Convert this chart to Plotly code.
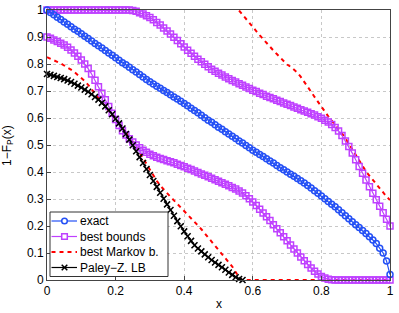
import plotly.graph_objects as go

x_vals = [round(i * 0.01, 2) for i in range(101)]

exact = [1.000, 0.991, 0.982, 0.973, 0.965, 0.956, 0.947, 0.938, 0.929, 0.921,
         0.912, 0.903, 0.894, 0.885, 0.876, 0.868, 0.859, 0.850, 0.841, 0.832,
         0.823, 0.814, 0.805, 0.797, 0.788, 0.779, 0.770, 0.761, 0.752, 0.743,
         0.734, 0.726, 0.718, 0.710, 0.702, 0.694, 0.686, 0.678, 0.670, 0.662,
         0.654, 0.645, 0.636, 0.628, 0.619, 0.610, 0.601, 0.592, 0.584, 0.575,
         0.566, 0.558, 0.549, 0.541, 0.532, 0.524, 0.515, 0.507, 0.498, 0.490,
         0.481, 0.473, 0.465, 0.457, 0.449, 0.441, 0.433, 0.424, 0.416, 0.408,
         0.400, 0.392, 0.384, 0.376, 0.368, 0.359, 0.350, 0.341, 0.331, 0.321,
         0.311, 0.301, 0.291, 0.281, 0.271, 0.260, 0.249, 0.238, 0.227, 0.216,
         0.205, 0.194, 0.183, 0.172, 0.160, 0.148, 0.135, 0.118, 0.100, 0.070,
         0.020]

bounds_upper = [1.0] * 25 + [
    0.998, 0.995, 0.990, 0.985, 0.979, 0.972, 0.964, 0.954, 0.944, 0.933,
    0.922, 0.911, 0.899, 0.887, 0.875, 0.863, 0.851, 0.840, 0.829, 0.818,
    0.808, 0.799, 0.790, 0.781, 0.773, 0.766, 0.759, 0.752, 0.745, 0.739,
    0.733, 0.727, 0.721, 0.715, 0.709, 0.703, 0.698, 0.692, 0.687, 0.681,
    0.676, 0.671, 0.666, 0.661, 0.656, 0.651, 0.646, 0.641, 0.636, 0.631,
    0.626, 0.621, 0.616, 0.611, 0.605, 0.599, 0.592, 0.585, 0.576, 0.565,
    0.552, 0.535, 0.515, 0.494, 0.470, 0.445, 0.420, 0.395, 0.370, 0.345,
    0.321, 0.297, 0.273, 0.249, 0.225, 0.200]

bounds_lower = [
    0.900, 0.895, 0.889, 0.883, 0.877, 0.870, 0.862, 0.852, 0.841, 0.829,
    0.815, 0.800, 0.783, 0.763, 0.740, 0.716, 0.692, 0.668, 0.643, 0.618,
    0.594, 0.572, 0.553, 0.537, 0.523, 0.511, 0.500, 0.490, 0.481, 0.473,
    0.466, 0.460, 0.455, 0.450, 0.446, 0.442, 0.438, 0.434, 0.429, 0.424,
    0.419, 0.414, 0.409, 0.404, 0.398, 0.393, 0.388, 0.382, 0.377, 0.371,
    0.366, 0.360, 0.355, 0.349, 0.343, 0.337, 0.330, 0.322, 0.312, 0.301,
    0.289, 0.276, 0.262, 0.248, 0.234, 0.220, 0.205, 0.190, 0.175, 0.160,
    0.145, 0.130, 0.115, 0.100, 0.085, 0.071, 0.057, 0.044, 0.032, 0.022,
    0.013, 0.007, 0.003, 0.001] + [0.0] * 17

markov_upper_x = x_vals[56:]
markov_upper = [
    0.998, 0.982, 0.967, 0.952, 0.937, 0.922, 0.907, 0.892, 0.878,
    0.864, 0.850, 0.837, 0.824, 0.811, 0.798, 0.790, 0.780, 0.768, 0.752,
    0.735, 0.716, 0.697, 0.678, 0.659, 0.640, 0.622, 0.606, 0.590, 0.575,
    0.560, 0.543, 0.525, 0.505, 0.482, 0.460, 0.440, 0.420, 0.402, 0.386,
    0.370, 0.355, 0.338, 0.323, 0.309, 0.296]

markov_lower = [
    0.825, 0.820, 0.814, 0.808, 0.802, 0.795, 0.788, 0.779, 0.770, 0.760,
    0.749, 0.737, 0.723, 0.707, 0.690, 0.673, 0.656, 0.640, 0.624, 0.608,
    0.593, 0.578, 0.563, 0.548, 0.531, 0.513, 0.493, 0.472, 0.450, 0.428,
    0.406, 0.386, 0.367, 0.350, 0.335, 0.321, 0.308, 0.295, 0.282, 0.270,
    0.257, 0.244, 0.230, 0.216, 0.202, 0.188, 0.173, 0.158, 0.143, 0.128,
    0.113, 0.098, 0.083, 0.068, 0.050, 0.030, 0.008] + [0.0] * 44

paley_x = x_vals[:58]
paley = [
    0.763, 0.760, 0.756, 0.752, 0.748, 0.744, 0.739, 0.733, 0.727, 0.720,
    0.713, 0.705, 0.697, 0.688, 0.678, 0.668, 0.656, 0.643, 0.629, 0.614,
    0.597, 0.580, 0.561, 0.541, 0.520, 0.499, 0.477, 0.455, 0.433, 0.411,
    0.389, 0.367, 0.345, 0.323, 0.301, 0.280, 0.259, 0.238, 0.218, 0.199,
    0.180, 0.162, 0.145, 0.129, 0.117, 0.106, 0.095, 0.084, 0.074, 0.065,
    0.056, 0.047, 0.038, 0.028, 0.019, 0.010, 0.004, 0.000]

legend_labels = ["exact", "best bounds", "best Markov b.", "Paley\u2212Z. LB"]

x_ticks = [0, 0.2, 0.4, 0.6, 0.8, 1]
x_tick_labels = ["0", "0.2", "0.4", "0.6", "0.8", "1"]
y_ticks = [0, 0.1, 0.2, 0.3, 0.4, 0.5, 0.6, 0.7, 0.8, 0.9, 1]
y_tick_labels = ["0", "0.1", "0.2", "0.3", "0.4", "0.5", "0.6", "0.7", "0.8", "0.9", "1"]

BLUE = "#2450f5"
PURPLE = "#bf40ff"
RED = "#ff0000"
BLACK = "#000000"
FONT = "Liberation Sans, Arial, sans-serif"
DASH = "4px,4px"

fig = go.Figure()

fig.add_trace(go.Scatter(x=x_vals, y=markov_lower, mode="lines",
                         line=dict(color=RED, width=2, dash=DASH), showlegend=False))
fig.add_trace(go.Scatter(x=markov_upper_x, y=markov_upper, mode="lines",
                         line=dict(color=RED, width=2, dash=DASH), showlegend=False))

sq_marker = dict(symbol="square-open", size=6, color=PURPLE, line=dict(width=1.5, color=PURPLE))
fig.add_trace(go.Scatter(x=x_vals, y=bounds_upper, mode="lines+markers",
                         line=dict(color=PURPLE, width=1.2), marker=sq_marker,
                         showlegend=False, cliponaxis=False))
fig.add_trace(go.Scatter(x=x_vals, y=bounds_lower, mode="lines+markers",
                         line=dict(color=PURPLE, width=1.2), marker=sq_marker,
                         showlegend=False, cliponaxis=False))

fig.add_trace(go.Scatter(x=paley_x, y=paley, mode="lines+markers",
                         line=dict(color=BLACK, width=1.2),
                         marker=dict(symbol="x-thin-open", size=6, color=BLACK,
                                     line=dict(width=1.5, color=BLACK)),
                         showlegend=False, cliponaxis=False))

fig.add_trace(go.Scatter(x=x_vals, y=exact, mode="lines+markers",
                         line=dict(color=BLUE, width=1.2),
                         marker=dict(symbol="circle-open", size=6, color=BLUE,
                                     line=dict(width=1.5, color=BLUE)),
                         showlegend=False, cliponaxis=False))

axis_common = dict(
    showline=True, mirror=True, linecolor="#444444", linewidth=1,
    ticks="inside", ticklen=4, tickcolor="#444444",
    showgrid=True, gridcolor="#c8c8c8", griddash="dot", gridwidth=1,
    zeroline=False, automargin=False,
    tickfont=dict(family=FONT, size=12, color="#000000"),
)
fig.update_xaxes(range=[0, 1], tickvals=x_ticks, ticktext=x_tick_labels, **axis_common)
fig.update_yaxes(range=[0, 1], tickvals=y_ticks, ticktext=y_tick_labels, **axis_common)

fig.add_annotation(text="1\u2212F<sub>P</sub>(x)", xref="paper", yref="paper",
                   x=-0.114, y=0.5, xanchor="center", yanchor="middle",
                   textangle=-90, showarrow=False,
                   font=dict(family=FONT, size=12, color="#000000"))
fig.add_annotation(text="x", xref="paper", yref="paper",
                   x=0.5, y=-0.09, xanchor="center", yanchor="middle",
                   showarrow=False, font=dict(family=FONT, size=12, color="#000000"))

# ---- hand-built legend (MATLAB-style compact box) ----
PW, PH = 343.0, 270.0
def px(xp):
    return (xp - 47.0) / PW
def py(yp):
    return (280.0 - yp) / PH

fig.add_shape(type="rect", xref="paper", yref="paper",
              x0=px(50), x1=px(168), y0=py(276.5), y1=py(212),
              line=dict(color="#333333", width=1), fillcolor="white", layer="above")
row_y = [221, 236.5, 252, 267.5]
styles = [
    dict(color=BLUE, dash="solid", width=1.2, marker="circle"),
    dict(color=PURPLE, dash="solid", width=1.2, marker="square"),
    dict(color=RED, dash=DASH, width=2, marker=None),
    dict(color=BLACK, dash="solid", width=1.2, marker="x"),
]
for label, yy, st in zip(legend_labels, row_y, styles):
    fig.add_shape(type="line", xref="paper", yref="paper",
                  x0=px(51.5), x1=px(77), y0=py(yy), y1=py(yy),
                  line=dict(color=st["color"], width=st["width"], dash=st["dash"]),
                  layer="above")
    cx, cy = px(64.5), py(yy)
    if st["marker"] in ("circle", "square"):
        fig.add_shape(type="circle" if st["marker"] == "circle" else "rect",
                      xref="paper", yref="paper", xsizemode="pixel", ysizemode="pixel",
                      xanchor=cx, yanchor=cy, x0=-2.8, x1=2.8, y0=-2.8, y1=2.8,
                      line=dict(color=st["color"], width=1.5), fillcolor="white",
                      layer="above")
    elif st["marker"] == "x":
        for sgn in (1, -1):
            fig.add_shape(type="line", xref="paper", yref="paper",
                          xsizemode="pixel", ysizemode="pixel",
                          xanchor=cx, yanchor=cy, x0=-2.8, x1=2.8,
                          y0=-2.8 * sgn, y1=2.8 * sgn,
                          line=dict(color=st["color"], width=1.5), layer="above")
    fig.add_annotation(text=label, xref="paper", yref="paper",
                       x=px(78), y=py(yy), xanchor="left", yanchor="middle",
                       showarrow=False, font=dict(family=FONT, size=12, color="#000000"))

fig.update_layout(
    width=399, height=313,
    margin=dict(l=47, r=9, t=10, b=33),
    paper_bgcolor="white", plot_bgcolor="white",
    font=dict(family=FONT, size=12, color="#000000"),
    showlegend=False,
)

fig.write_html("out.html", config={"displayModeBar": False},
               post_script="document.body.style.margin='0px';document.body.style.padding='0px';")
